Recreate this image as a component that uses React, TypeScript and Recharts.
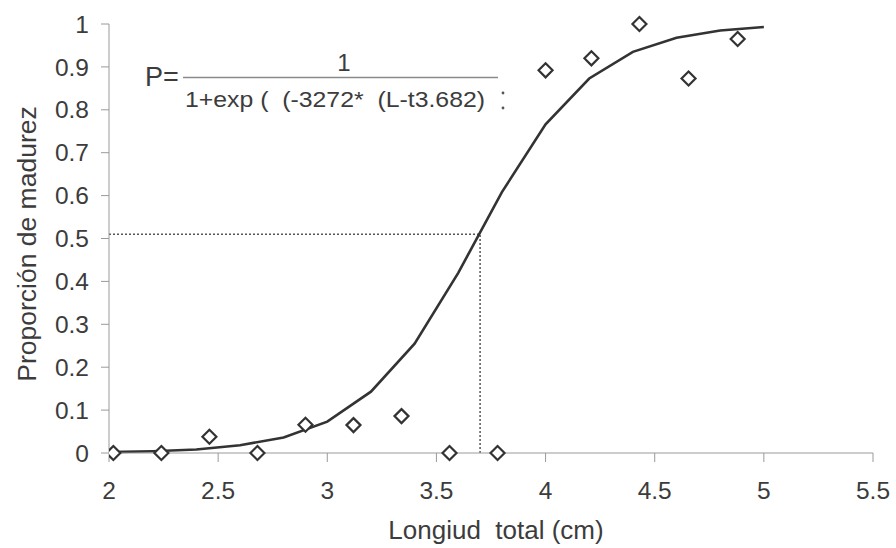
import React from "react";
import { ComposedChart, Line, Scatter, XAxis, YAxis, ReferenceLine } from "recharts";

const observedX = [2.02, 2.24, 2.46, 2.68, 2.9, 3.12, 3.34, 3.56, 3.78, 4.0, 4.21, 4.43, 4.655, 4.88];
const observedY = [0, 0, 0.038, 0, 0.066, 0.065, 0.086, 0, 0, 0.892, 0.92, 1.0, 0.873, 0.965];

const curveX = [2.0, 2.2, 2.4, 2.6, 2.8, 3.0, 3.2, 3.4, 3.6, 3.8, 4.0, 4.2, 4.4, 4.6, 4.8, 5.0];
const curveY = [0.002, 0.004, 0.008, 0.018, 0.036, 0.073, 0.143, 0.255, 0.42, 0.608, 0.766, 0.873, 0.935, 0.968, 0.985, 0.993];

const xTicks = [2, 2.5, 3, 3.5, 4, 4.5, 5, 5.5];
const yTicks = [0, 0.1, 0.2, 0.3, 0.4, 0.5, 0.6, 0.7, 0.8, 0.9, 1];
const yTickLabels = ["0", "0.1", "0.2", "0.3", "0.4", "0.5", "0.6", "0.7", "0.8", "0.9", "1"];

const p50X = 3.7;
const p50Y = 0.51;

const observed = observedX.map((x, i) => ({ x, y: observedY[i] }));
const curve = curveX.map((x, i) => ({ x, y: curveY[i] }));

const FONT = "'Liberation Sans', Arial, sans-serif";
const TEXT = "#3c3c3c";
const AXIS = "#9a9a9a";

const Diamond = (props: any) => {
  const { cx, cy } = props;
  if (cx == null || cy == null) return null;
  const r = 7;
  return (
    <path
      d={`M${cx},${cy - r} L${cx + r},${cy} L${cx},${cy + r} L${cx - r},${cy} Z`}
      fill="#ffffff"
      stroke="#333333"
      strokeWidth={2.2}
    />
  );
};

export default function App() {
  return (
    <div style={{ position: "absolute", left: 0, top: 0, width: 896, height: 548, background: "#ffffff" }}>
      <ComposedChart
        width={896}
        height={548}
        margin={{ top: 24, right: 23, left: 0, bottom: 0 }}
      >
        <XAxis
          type="number"
          dataKey="x"
          domain={[2, 5.5]}
          ticks={xTicks}
          allowDataOverflow
          stroke={AXIS}
          tickSize={9}
          tickMargin={20}
          height={95}
          tick={{ fill: TEXT, fontSize: 24.5, fontFamily: FONT }}
          tickLine={{ stroke: AXIS }}
        />
        <YAxis
          type="number"
          dataKey="y"
          domain={[0, 1]}
          ticks={yTicks}
          tickFormatter={(v: number) => yTickLabels[yTicks.indexOf(v)] ?? String(v)}
          width={109}
          stroke={AXIS}
          tickSize={8}
          tickMargin={12}
          tick={{ fill: TEXT, fontSize: 24.5, fontFamily: FONT }}
          tickLine={{ stroke: AXIS }}
        />
        <ReferenceLine
          segment={[{ x: 2, y: p50Y }, { x: p50X, y: p50Y }]}
          stroke="#555555"
          strokeWidth={1.5}
          strokeDasharray="2 2"
          ifOverflow="visible"
        />
        <ReferenceLine
          segment={[{ x: p50X, y: 0 }, { x: p50X, y: p50Y }]}
          stroke="#555555"
          strokeWidth={1.5}
          strokeDasharray="2 2"
          ifOverflow="visible"
        />
        <Line
          data={curve}
          dataKey="y"
          type="linear"
          stroke="#333333"
          strokeWidth={2.6}
          dot={false}
          activeDot={false}
          isAnimationActive={false}
        />
        <Scatter
          data={observed}
          dataKey="y"
          shape={<Diamond />}
          isAnimationActive={false}
        />
      </ComposedChart>
      <svg
        width={896}
        height={548}
        style={{ position: "absolute", left: 0, top: 0, pointerEvents: "none" }}
      >
        <text
          x={27}
          y={244}
          transform="rotate(-90 27 244)"
          textAnchor="middle"
          dominantBaseline="central"
          fill={TEXT}
          fontSize={26.5}
          fontFamily={FONT}
        >
          Proporción de madurez
        </text>
        <text
          x={496}
          y={539}
          textAnchor="middle"
          fill={TEXT}
          fontSize={26}
          fontFamily={FONT}
          style={{ whiteSpace: "pre" }}
        >
          {"Longiud  total (cm)"}
        </text>
        <text x={145} y={86} fill={TEXT} fontSize={27} fontFamily={FONT}>
          P=
        </text>
        <line x1={183} y1={77.5} x2={498} y2={77.5} stroke="#8a8a8a" strokeWidth={1.3} />
        <text x={344} y={71} textAnchor="middle" fill={TEXT} fontSize={24} fontFamily={FONT}>
          1
        </text>
        <text
          x={185}
          y={107}
          fill={TEXT}
          fontSize={22.5}
          fontFamily={FONT}
          textLength={300}
          lengthAdjust="spacingAndGlyphs"
          style={{ whiteSpace: "pre" }}
        >
          {"1+exp (  (-3272*  (L-t3.682)"}
        </text>
        <circle cx={503} cy={93} r={1.4} fill="#555" />
        <circle cx={503} cy={108} r={1.4} fill="#555" />
      </svg>
    </div>
  );
}
